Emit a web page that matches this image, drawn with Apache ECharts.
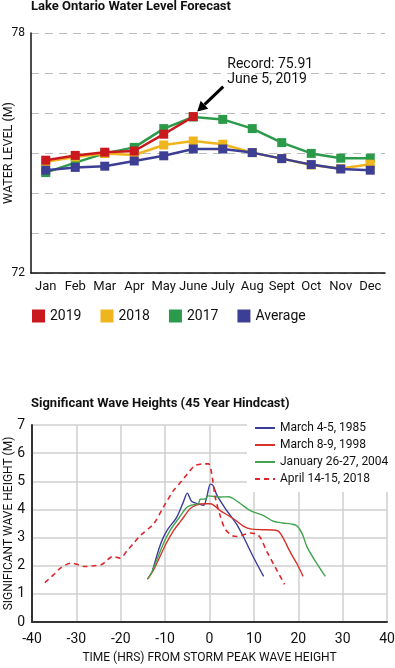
<!DOCTYPE html>
<html>
<head>
<meta charset="utf-8">
<script src="https://cdn.jsdelivr.net/npm/echarts@6/dist/echarts.min.js"></script>
<style>html,body{margin:0;padding:0;background:#fff}#c{width:395px;height:668px}</style>
</head>
<body>
<div id="c"></div>
<script>
// ---- Lake Ontario water level data ----
var months = ['Jan','Feb','Mar','Apr','May','June','July','Aug','Sept','Oct','Nov','Dec'];
var level2019 = [74.82, 74.94, 75.02, 75.05, 75.47, 75.91, null, null, null, null, null, null];
var level2018 = [74.78, 74.90, 74.99, 74.95, 75.20, 75.30, 75.22, 75.01, 74.86, 74.70, 74.61, 74.72];
var level2017 = [74.51, 74.76, 74.99, 75.14, 75.61, 75.90, 75.84, 75.61, 75.26, 74.99, 74.87, 74.87];
var levelAvg  = [74.57, 74.64, 74.67, 74.80, 74.93, 75.10, 75.10, 75.01, 74.86, 74.71, 74.60, 74.57];
var levelTicks = [72, 78];
var recordValue = 75.91;
var recordMonth = 'June';
var recordText = 'Record: 75.91\nJune 5, 2019';

// ---- Significant wave heights: [hours from peak, height m] ----
var wave1985 = [[-12.8,1.85],[-11.0,2.78],[-9.6,3.25],[-7.4,3.72],[-5.9,4.26],[-5.0,4.58],[-4.0,4.28],[-2.5,4.2],[-1.3,4.15],[-0.6,4.45],[0.2,4.9],[0.8,4.85],[1.7,4.5],[3.5,4.05],[5.0,3.72],[6.2,3.45],[7.7,3.01],[9.9,2.3],[12.2,1.62]];
var wave1998 = [[-14.0,1.52],[-12.6,1.85],[-9.8,2.78],[-8.1,3.25],[-6.4,3.6],[-4.4,4.02],[-3.0,4.15],[-1.0,4.2],[0.2,4.2],[2.4,3.96],[5.4,3.67],[7.7,3.4],[9.5,3.3],[12.0,3.28],[15.2,3.25],[16.3,3.07],[18.2,2.48],[19.7,2.07],[21.1,1.62]];
var wave2004 = [[-13.8,1.55],[-12.8,1.85],[-10.4,2.78],[-8.9,3.25],[-7.0,3.67],[-5.1,4.08],[-3.6,4.17],[-2.5,4.2],[-2.1,4.36],[-1.0,4.37],[-0.2,4.48],[2.4,4.44],[4.3,4.45],[5.4,4.38],[7.0,4.2],[9.2,3.96],[12.2,3.78],[14.4,3.58],[16.5,3.52],[18.5,3.48],[19.7,3.42],[20.9,3.13],[22.0,2.66],[24.2,2.07],[26.1,1.62]];
var wave2018 = [[-37.1,1.40],[-35.0,1.7],[-33.3,1.95],[-31.1,2.09],[-29.5,2.03],[-28.1,1.97],[-26.0,2.0],[-24.3,2.04],[-21.7,2.33],[-20.2,2.27],[-18.5,2.55],[-17.2,2.78],[-15.6,3.07],[-12.6,3.49],[-10.4,4.08],[-8.1,4.67],[-6.2,5.02],[-4.4,5.38],[-3.2,5.56],[-1.35,5.62],[-0.2,5.62],[0.5,5.26],[1.3,4.43],[2.4,3.78],[3.5,3.31],[5.1,3.07],[6.2,3.04],[9.2,3.16],[11.1,3.07],[13.0,2.48],[14.8,1.95],[16.9,1.34]];
var waveNames = ['March 4-5, 1985', 'March 8-9, 1998', 'January 26-27, 2004', 'April 14-15, 2018'];

var FONT = 'Roboto, "Liberation Sans", sans-serif';
var C19 = '#c9191f', C18 = '#efb51c', C17 = '#2c9a4b', CAV = '#3d3f95';

function levelSeries(name, data, color, z) {
  return {
    name: name, type: 'line', xAxisIndex: 0, yAxisIndex: 0, data: data, z: z,
    symbol: 'rect', symbolSize: 9, showSymbol: true,
    lineStyle: { color: color, width: 2.5 },
    itemStyle: { color: color },
    emphasis: { disabled: true }, animation: false
  };
}
function waveSeries(name, data, color, dashed) {
  return {
    name: name, type: 'line', xAxisIndex: 1, yAxisIndex: 1, data: data,
    symbol: 'none', smooth: 0.3,
    lineStyle: { color: color, width: dashed ? 1.6 : 1.4, type: dashed ? [5, 4] : 'solid' },
    itemStyle: { color: color },
    emphasis: { disabled: true }, animation: false
  };
}

var chart = echarts.init(document.getElementById('c'));
var option = {
  animation: false,
  textStyle: { fontFamily: FONT },
  title: [
    { text: 'Lake Ontario Water Level Forecast', left: 31, top: 0, padding: 0,
      textStyle: { fontSize: 13, fontWeight: 'bold', color: '#111', fontFamily: FONT } },
    { text: 'Significant Wave Heights (45 Year Hindcast)', left: 31, top: 397, padding: 0,
      textStyle: { fontSize: 13, fontWeight: 'bold', color: '#111', fontFamily: FONT } }
  ],
  legend: [
    { data: ['2019', '2018', '2017', 'Average'], left: 27, top: 304, orient: 'horizontal',
      icon: 'rect', itemWidth: 13, itemHeight: 13, itemGap: 19,
      textStyle: { fontSize: 14, color: '#111', fontFamily: FONT } },
    { data: waveNames, left: 247, top: 419, orient: 'vertical',
      itemWidth: 20, itemHeight: 10, itemGap: 5,
      itemStyle: { opacity: 0 },
      padding: [3, 6, 7, 7], backgroundColor: '#fff', z: 10,
      textStyle: { fontSize: 12, color: '#111', fontFamily: FONT } }
  ],
  grid: [
    { left: 31, right: 10, top: 33, height: 240, outerBoundsMode: 'none', containLabel: false },
    { left: 32, right: 8, top: 425, height: 197, outerBoundsMode: 'none', containLabel: false }
  ],
  xAxis: [
    { type: 'category', gridIndex: 0, data: months, boundaryGap: true,
      axisLine: { lineStyle: { color: '#111', width: 1.5 } },
      axisTick: { show: false },
      axisLabel: { fontSize: 13, color: '#111', margin: 7, interval: 0 },
      splitLine: { show: false } },
    { type: 'value', gridIndex: 1, min: -40, max: 40, interval: 10,
      name: 'TIME (HRS) FROM STORM PEAK WAVE HEIGHT', nameLocation: 'middle', nameGap: 30,
      nameMoveOverlap: false,
      nameTextStyle: { fontSize: 12, color: '#111' },
      axisLine: { onZero: false, lineStyle: { color: '#333', width: 2 } },
      axisTick: { show: false },
      axisLabel: { fontSize: 14, color: '#111', margin: 10 },
      splitLine: { show: true, lineStyle: { color: '#cfcfcf', width: 1.5 } } }
  ],
  yAxis: [
    { type: 'value', gridIndex: 0, min: 72, max: 78, interval: 1,
      name: 'WATER LEVEL (M)', nameLocation: 'middle', nameGap: 16, nameRotate: 90,
      nameMoveOverlap: false,
      nameTextStyle: { fontSize: 12.5, color: '#111' },
      axisLine: { show: true, onZero: false, lineStyle: { color: '#111', width: 1.5 } },
      axisTick: { show: false },
      axisLabel: { fontSize: 12, color: '#111', margin: 6,
        formatter: function (v) { return levelTicks.indexOf(v) >= 0 ? String(v) : ''; } },
      splitLine: { show: true, lineStyle: { color: '#bdbdbd', width: 1, type: [8, 6] } } },
    { type: 'value', gridIndex: 1, min: 0, max: 7, interval: 1,
      name: 'SIGNIFICANT WAVE HEIGHT (M)', nameLocation: 'middle', nameGap: 17, nameRotate: 90,
      nameMoveOverlap: false,
      nameTextStyle: { fontSize: 12, color: '#111' },
      axisLine: { show: true, onZero: false, lineStyle: { color: '#333', width: 2 } },
      axisTick: { show: false },
      axisLabel: { fontSize: 14, color: '#111', margin: 7 },
      splitLine: { show: true, lineStyle: { color: '#cfcfcf', width: 1.5 } } }
  ],
  series: [
    levelSeries('2019', level2019, C19, 5),
    levelSeries('2018', level2018, C18, 3),
    levelSeries('2017', level2017, C17, 2),
    levelSeries('Average', levelAvg, CAV, 4),
    waveSeries(waveNames[0], wave1985, '#3a3d99', false),
    waveSeries(waveNames[1], wave1998, '#d7322a', false),
    waveSeries(waveNames[2], wave2004, '#41a54f', false),
    waveSeries(waveNames[3], wave2018, '#e0252b', true)
  ]
};
chart.setOption(option);

// Annotation arrow placed relative to the record data point
var p = chart.convertToPixel({ xAxisIndex: 0, yAxisIndex: 0 }, [recordMonth, recordValue]);
var head = [p[0] + 4, p[1] - 5];
var tail = [p[0] + 30, p[1] - 30];
var ang = Math.atan2(head[1] - tail[1], head[0] - tail[0]);
var L = 10, W = 5.5;
var bx = head[0] - L * Math.cos(ang), by = head[1] - L * Math.sin(ang);
var nx = -Math.sin(ang), ny = Math.cos(ang);
chart.setOption({
  graphic: [
    { type: 'line', shape: { x1: tail[0], y1: tail[1], x2: bx, y2: by },
      style: { stroke: '#000', lineWidth: 3 }, z: 20 },
    { type: 'polygon', shape: { points: [head, [bx + nx * W, by + ny * W], [bx - nx * W, by - ny * W]] },
      style: { fill: '#000' }, z: 20 },
    { type: 'text', x: p[0] + 34, y: p[1] - 60,
      style: { text: recordText, font: '14px ' + FONT, fill: '#111', lineHeight: 15.5, textVerticalAlign: 'top' }, z: 20 }
  ]
});
</script>
</body>
</html>
